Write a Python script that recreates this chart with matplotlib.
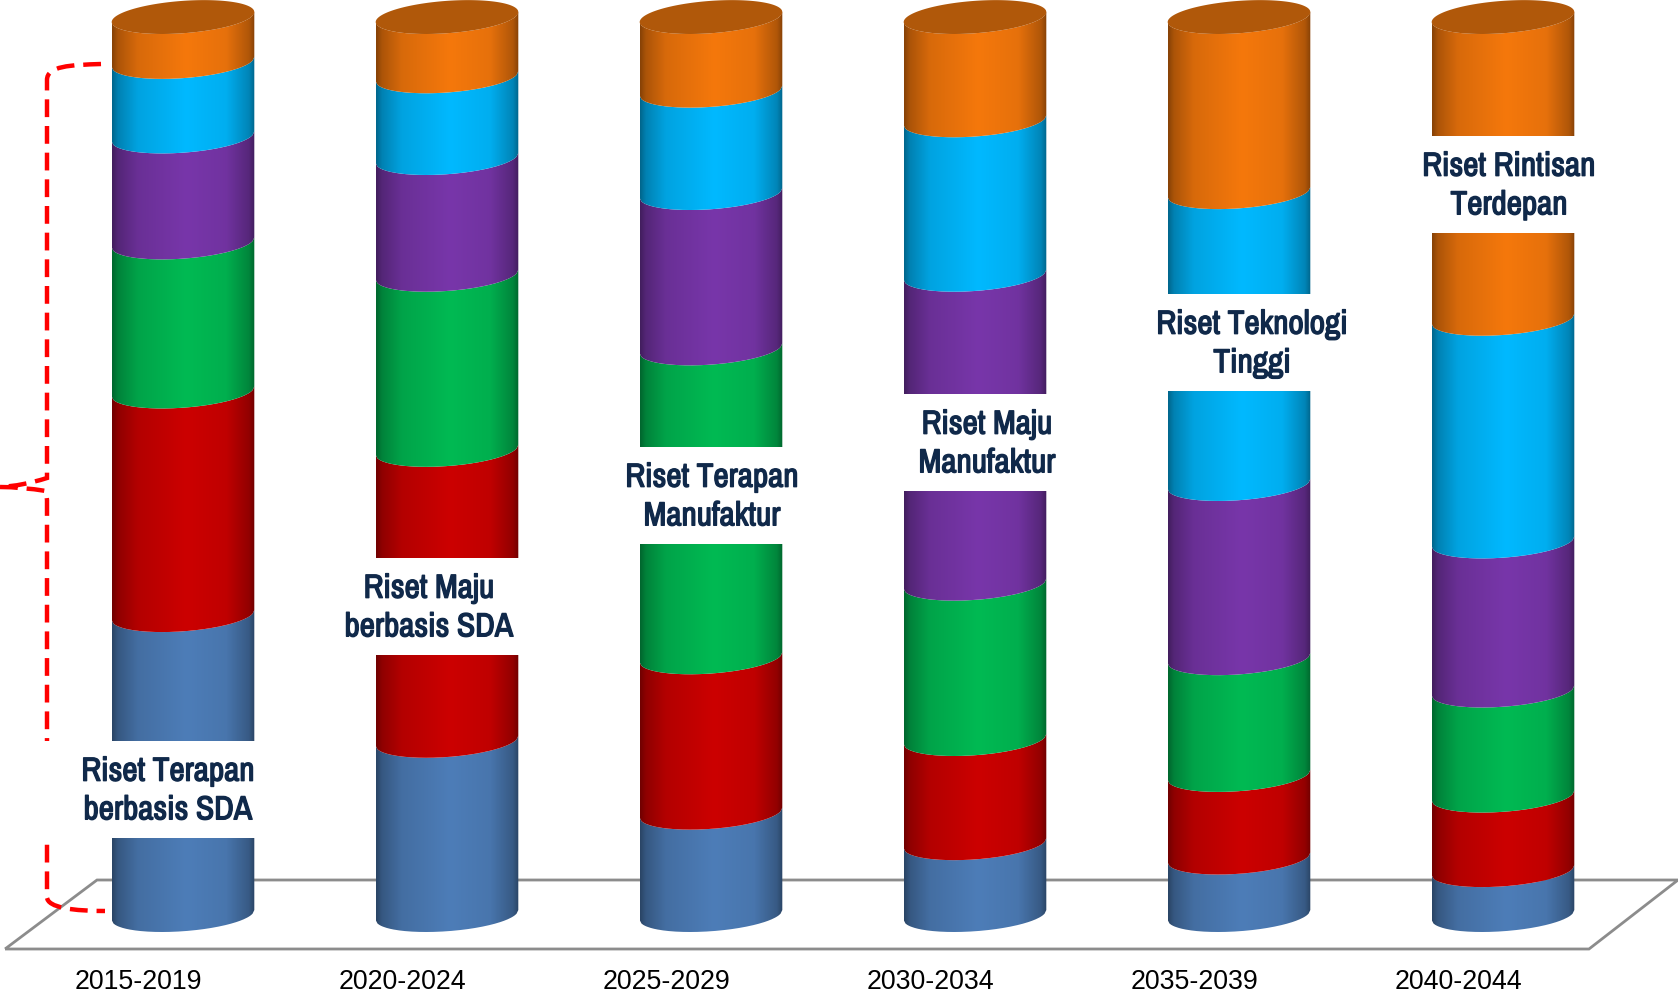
import numpy as np
import matplotlib
matplotlib.use('Agg')
import matplotlib.pyplot as plt
import matplotlib.patheffects as pe
from matplotlib.path import Path
from matplotlib.patches import PathPatch, Rectangle
from matplotlib.transforms import Affine2D

periods = ['2015-2019', '2020-2024', '2025-2029', '2030-2034', '2035-2039', '2040-2044']
labels = ['Riset Terapan\nberbasis SDA', 'Riset Maju\nberbasis SDA', 'Riset Terapan\nManufaktur',
          'Riset Maju\nManufaktur', 'Riset Teknologi\nTinggi', 'Riset Rintisan\nTerdepan']

# share of each band per period, bottom to top
blue = [33.4, 19.4, 11.4, 8.0, 6.4, 5.0]
red = [24.9, 32.4, 17.3, 11.6, 9.2, 8.3]
green = [16.6, 19.5, 34.4, 17.3, 13.0, 11.7]
purple = [11.8, 13.0, 17.3, 34.4, 19.4, 16.6]
cyan = [8.3, 9.1, 11.4, 17.2, 32.5, 24.8]
orange = [5.0, 6.6, 8.2, 11.5, 19.5, 33.6]
series = [blue, red, green, purple, cyan, orange]
colors = ['#4d7db8', '#cc0000', '#00ba53', '#7836aa', '#00b9ff', '#f5780c']

W, H = 1678, 994
fig = plt.figure(figsize=(W / 100, H / 100), dpi=100)
ax = fig.add_axes([0, 0, 1, 1])

# category 0 sits at pixel 183, 264 px between columns; 0..100 spans pixel 932..34
step = 264.0
ppu = 8.98
ax.set_xlim(-183.0 / step, (W - 183.0) / step)
ax.set_ylim(-(H - 932) / ppu, 100 + 34 / ppu)
ax.axis('off')
px = Affine2D().scale(1, -1).translate(0, H)  # top-left pixel coords for the decoration

hw = 71.3 / step
ry = 16.2 / ppu
slope = 5.0 / ppu
lift = np.hypot(ry, slope)


def shade(color):
    c = np.array(matplotlib.colors.to_rgb(color))
    t = np.linspace(0, 1, 200)
    f = np.interp(t, [0, 0.04, 0.18, 0.52, 0.8, 0.96, 1], [0.55, 0.7, 0.88, 1, 0.94, 0.72, 0.55])
    return (c[None, :] * f[:, None])[None, :, :]


def front_arc(x0, v):
    u = np.linspace(-1, 1, 80)
    return x0 + u * hw, v + lift + slope * u - ry * np.sqrt(1 - u ** 2)


# floor
floor = Path(px.transform([(5, 949), (97, 880), (1678, 880), (1589, 949), (5, 949)]))
ax.add_patch(PathPatch(floor, transform=None, fill=False, ec='#8c8c8c', lw=2.0, zorder=1))

tops = np.zeros(len(periods))
for vals, col in zip(series, colors):
    for i, v in enumerate(vals):
        xa, ya = front_arc(i, tops[i])
        xb, yb = front_arc(i, tops[i] + v)
        verts = np.r_[np.c_[xa, ya], np.c_[xb[::-1], yb[::-1]], [[xa[0], ya[0]]]]
        im = ax.imshow(shade(col), extent=(i - hw, i + hw, tops[i] - 1, tops[i] + v + 2 * lift + 1),
                       aspect='auto', zorder=2, interpolation='bilinear')
        im.set_clip_path(Path(verts), transform=ax.transData)
    tops += np.array(vals)

ax.set_xlim(-183.0 / step, (W - 183.0) / step)
ax.set_ylim(-(H - 932) / ppu, 100 + 34 / ppu)

# lid of the last band
for i, top in enumerate(tops):
    t = np.linspace(0, 2 * np.pi, 160)
    lx = i + hw * np.cos(t)
    ly = top + lift + slope * np.cos(t) + ry * np.sin(t)
    ax.fill(lx, ly, color='#b0580a', lw=0, zorder=3)

# red dashed brace
dash = (0, (4.0, 2.0))
brace = Path([(101, 64), (70, 65), (47, 66), (47, 80), (47, 478), (22, 486), (0, 487), (22, 487), (46, 491), (47, 500),
              (47, 897), (47, 908), (75, 911), (105, 911)],
             [Path.MOVETO, Path.CURVE4, Path.CURVE4, Path.CURVE4, Path.LINETO, Path.CURVE3, Path.CURVE3,
              Path.CURVE3, Path.CURVE3, Path.LINETO, Path.LINETO, Path.CURVE4, Path.CURVE4, Path.CURVE4])
ax.add_patch(PathPatch(brace, transform=px, fill=False, ec='#ff0000', lw=3.2, ls=dash, zorder=4))

# white label boxes over the columns
box_y = [741, 558, 447, 394, 294, 136]
box_x = [30, 335, 600, 875, 1140, 1410]
box_w = [232, 205, 220, 210, 225, 190]
text_x = [168, 429, 712, 987, 1252, 1509]
for i, lab in enumerate(labels):
    ax.add_patch(Rectangle((box_x[i], box_y[i]), box_w[i], 97, transform=px, fc='white', ec='none', zorder=5))
    t = ax.text(text_x[i], box_y[i] + 50, lab, transform=px, ha='center', va='center', color='#10294a',
                family=['Archivo Narrow', 'Liberation Sans'], fontsize=24, linespacing=1.36, zorder=6)
    t.set_path_effects([pe.withStroke(linewidth=1.0, foreground='#10294a')])
    ax.text(138 + i * step, 982, periods[i], transform=px, ha='center', va='center', color='black',
            family='Liberation Sans', fontsize=19.3)

fig.savefig('out.png', dpi=100, facecolor='white')
